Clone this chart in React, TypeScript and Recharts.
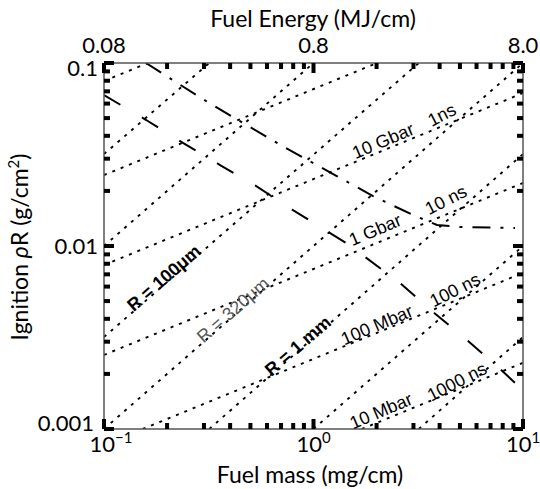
import React from "react";
import { LineChart, Line, XAxis, YAxis, ReferenceDot } from "recharts";

// fuel mass (mg/cm) on x, ignition rho-R (g/cm^2) on y, both log
const massTicks = [0.1, 0.2, 0.3, 0.4, 0.5, 0.6, 0.7, 0.8, 0.9, 1, 2, 3, 4, 5, 6, 7, 8, 9, 10];
const rhoRTicks = [
  0.001, 0.002, 0.003, 0.004, 0.005, 0.006, 0.007, 0.008, 0.009,
  0.01, 0.02, 0.03, 0.04, 0.05, 0.06, 0.07, 0.08, 0.09, 0.1,
];
const massMajor = [0.1, 1, 10];
const massExponent = ["−1", "0", "1"];
const energyLabels = ["0.08", "0.8", "8.0"];
const rhoRMajor = [0.001, 0.01, 0.1];
const rhoRLabels = ["0.001", "0.01", "0.1"];

// ignition curve (long dashes)
const ignitionMass = [0.1, 0.159, 0.238, 0.358, 0.531, 0.798, 1.43, 2.59, 3.72, 5.4, 7.6, 10];
const ignitionRhoR = [0.0668, 0.0488, 0.0366, 0.0277, 0.0213, 0.0157, 0.0104, 0.00628, 0.00436, 0.00306, 0.00218, 0.00163];

// magnetized ignition curve (dash-dot)
const magMass = [0.1586, 0.29, 0.436, 0.739, 1.266, 1.923, 2.985, 3.886, 5.0, 9.16];
const magRhoR = [0.1, 0.0644, 0.0488, 0.0343, 0.0244, 0.01875, 0.01477, 0.01303, 0.0127, 0.01254];

// constant fuel radius (10 um ... 10 mm), [mass, rhoR] at each end
const radiusStart = [[0.1, 0.0318], [0.1, 0.01], [0.1, 0.00318], [0.1, 0.001], [0.318, 0.001], [1, 0.001], [3.18, 0.001]];
const radiusEnd = [[0.318, 0.1], [1, 0.1], [3.18, 0.1], [10, 0.1], [10, 0.0318], [10, 0.01], [10, 0.00318]];

// constant pressure / time
const pressureStart = [[0.1, 0.0797], [0.1, 0.0244], [0.1, 0.00787], [0.1, 0.00254], [0.153, 0.001], [1.7, 0.001]];
const pressureEnd = [[0.162, 0.1], [2.01, 0.1], [10, 0.0685], [10, 0.0221], [10, 0.00713], [10, 0.0023]];

// annotations
const noteText = ["10 Gbar", "1ns", "1 Gbar", "10 ns", "100 Mbar", "100 ns", "10 Mbar", "1000 ns", "R = 100μm", "R = 320μm", "R = 1 mm"];
const noteMass = [2.15, 4.1, 1.97, 4.29, 2.01, 4.74, 2.1, 4.84, 0.1934, 0.413, 0.843];
const noteRhoR = [0.0375, 0.052, 0.01223, 0.01784, 0.0037, 0.00575, 0.001254, 0.00181, 0.00668, 0.00447, 0.00284];

const AXIS_FONT = "Lato, 'DejaVu Sans', sans-serif";
const NOTE_FONT = "'Liberation Sans', Arial, sans-serif";

const toPts = (a: number[], b: number[]) => a.map((m, i) => ({ m, r: b[i] }));
const segment = (s: number[], e: number[]) => [{ m: s[0], r: s[1] }, { m: e[0], r: e[1] }];

function BottomTick(props: any) {
  const { x, y, payload } = props;
  const idx = massMajor.indexOf(payload.value);
  const len = idx >= 0 ? 10 : 6;
  return (
    <g>
      <line x1={x} x2={x} y1={y} y2={y - len} stroke="#000" strokeWidth={4} />
      {idx >= 0 && (
        <text x={idx === 0 ? x + 7 : x} y={y + 23} textAnchor="middle" fontSize={22} fontFamily={AXIS_FONT} fill="#000">
          10<tspan dy={-9} fontSize={15}>{massExponent[idx]}</tspan>
        </text>
      )}
    </g>
  );
}

function TopTick(props: any) {
  const { x, y, payload } = props;
  const idx = massMajor.indexOf(payload.value);
  const len = idx >= 0 ? 10 : 6;
  return (
    <g>
      <line x1={x} x2={x} y1={y} y2={y + len} stroke="#000" strokeWidth={4} />
      {idx >= 0 && (
        <text x={x} y={y - 10} textAnchor="middle" fontSize={22} fontFamily={AXIS_FONT} fill="#000">
          {energyLabels[idx]}
        </text>
      )}
    </g>
  );
}

function LeftTick(props: any) {
  const { x, y, payload } = props;
  const idx = rhoRMajor.indexOf(payload.value);
  const len = idx >= 0 ? 10 : 6;
  return (
    <g>
      <line x1={x} x2={x + len} y1={y} y2={y} stroke="#000" strokeWidth={4} />
      {idx >= 0 && (
        <text x={idx === 0 ? x - 10 : x - 6} y={y + (idx === 2 ? 13 : idx === 0 ? 2 : 8)} textAnchor="end" fontSize={22} fontFamily={AXIS_FONT} fill="#000">
          {rhoRLabels[idx]}
        </text>
      )}
    </g>
  );
}

function RightTick(props: any) {
  const { x, y, payload } = props;
  const len = rhoRMajor.includes(payload.value) ? 10 : 6;
  return <line x1={x} x2={x - len} y1={y} y2={y} stroke="#000" strokeWidth={4} />;
}

function Note({ cx, cy, i }: { cx: number; cy: number; i: number }) {
  const isRadius = i >= 8;
  const angle = isRadius ? 41 : i % 2 === 0 ? 23 : 27;
  const bold = i === 8 || i === 10;
  return (
    <text
      x={cx}
      y={cy}
      textAnchor="middle"
      dominantBaseline="central"
      transform={`rotate(${-angle} ${cx} ${cy})`}
      fontSize={18}
      fontFamily={NOTE_FONT}
      fontWeight={bold ? 700 : 400}
      fill={i === 9 ? "#555" : "#000"}
    >
      {noteText[i]}
    </text>
  );
}

export default function App() {
  const axisLine = { stroke: "#555", strokeWidth: 1.5 };
  const dotted = { stroke: "#000", strokeWidth: 1.9, strokeDasharray: "3 6" };
  return (
    <div style={{ position: "absolute", left: 0, top: 0, width: 540, height: 489, background: "#fff" }}>
      <LineChart width={540} height={489} margin={{ top: 33, right: 7, bottom: 30, left: 44 }}>
        <XAxis
          dataKey="m"
          type="number"
          scale="log"
          domain={[0.1, 10]}
          allowDataOverflow
          ticks={massTicks}
          interval={0}
          tick={BottomTick}
          tickLine={false}
          tickSize={0}
          tickMargin={0}
          axisLine={axisLine}
          height={30}
        />
        <XAxis
          xAxisId="top"
          orientation="top"
          dataKey="m"
          type="number"
          scale="log"
          domain={[0.1, 10]}
          allowDataOverflow
          ticks={massTicks}
          interval={0}
          tick={TopTick}
          tickLine={false}
          tickSize={0}
          tickMargin={0}
          axisLine={axisLine}
          height={30}
        />
        <YAxis
          type="number"
          scale="log"
          domain={[0.001, 0.1]}
          allowDataOverflow
          ticks={rhoRTicks}
          interval={0}
          tick={LeftTick}
          tickLine={false}
          tickSize={0}
          tickMargin={0}
          axisLine={axisLine}
          width={60}
        />
        <YAxis
          yAxisId="right"
          orientation="right"
          type="number"
          scale="log"
          domain={[0.001, 0.1]}
          allowDataOverflow
          ticks={rhoRTicks}
          interval={0}
          tick={RightTick}
          tickLine={false}
          tickSize={0}
          tickMargin={0}
          axisLine={axisLine}
          width={10}
        />

        {radiusStart.map((s, i) => (
          <Line key={"rad" + i} data={segment(s, radiusEnd[i])} dataKey="r" type="linear" {...dotted}
            dot={false} activeDot={false} isAnimationActive={false} />
        ))}
        {pressureStart.map((s, i) => (
          <Line key={"prs" + i} data={segment(s, pressureEnd[i])} dataKey="r" type="linear" {...dotted}
            dot={false} activeDot={false} isAnimationActive={false} />
        ))}
        <Line data={toPts(ignitionMass, ignitionRhoR)} dataKey="r" type="linear" stroke="#000" strokeWidth={2}
          strokeDasharray="19 25" dot={false} activeDot={false} isAnimationActive={false} />
        <Line data={toPts(magMass, magRhoR)} dataKey="r" type="linear" stroke="#000" strokeWidth={2}
          strokeDasharray="18 10 3 10" dot={false} activeDot={false} isAnimationActive={false} />

        {noteText.map((t, i) => (
          <ReferenceDot key={t} x={noteMass[i]} y={noteRhoR[i]} r={0} fill="none" stroke="none"
            shape={(p: any) => <Note cx={p.cx} cy={p.cy} i={i} />} />
        ))}
      </LineChart>
      <svg width={540} height={489} style={{ position: "absolute", left: 0, top: 0, pointerEvents: "none" }}>
        <text x={313} y={27} textAnchor="middle" fontSize={23} fontFamily={AXIS_FONT} fill="#000">
          Fuel Energy (MJ/cm)
        </text>
        <text x={310} y={483} textAnchor="middle" fontSize={23} fontFamily={AXIS_FONT} fill="#000">
          Fuel mass (mg/cm)
        </text>
        <text x={28} y={247} textAnchor="middle" fontSize={23} fontFamily={AXIS_FONT} fill="#000"
          transform="rotate(-90 28 247)">
          Ignition <tspan fontStyle="italic">ρ</tspan>R (g/cm<tspan dy={-9} fontSize={15}>2</tspan><tspan dy={9}>)</tspan>
        </text>
      </svg>
    </div>
  );
}
